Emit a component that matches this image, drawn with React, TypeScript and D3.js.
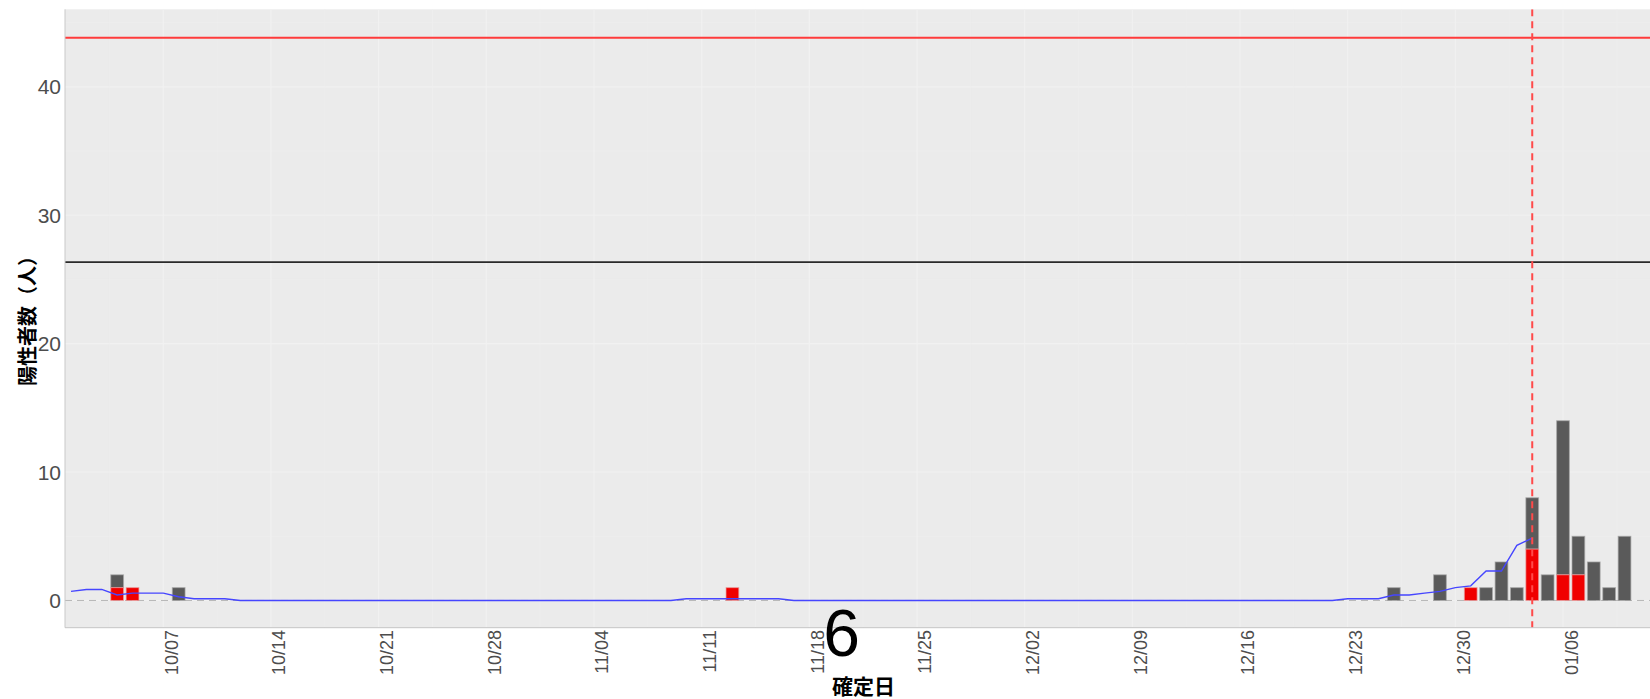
import React from "react";
import * as d3 from "d3";

// daily confirmed cases (red = highlighted group, gray = others)
const barDates = [
  "2020-10-04", "2020-10-05", "2020-10-08", "2020-11-13", "2020-12-26",
  "2020-12-29", "2020-12-31", "2021-01-01", "2021-01-02", "2021-01-03",
  "2021-01-04", "2021-01-05", "2021-01-06", "2021-01-07", "2021-01-08",
  "2021-01-09", "2021-01-10",
];
const redCounts = [1, 1, 0, 1, 0, 0, 1, 0, 0, 0, 4, 0, 2, 2, 0, 0, 0];
const grayCounts = [1, 0, 1, 0, 1, 2, 0, 1, 3, 1, 4, 2, 12, 3, 3, 1, 5];

// 7-day average line (points where it changes)
const avgDates = [
  "2020-10-01", "2020-10-02", "2020-10-03", "2020-10-04", "2020-10-05",
  "2020-10-06", "2020-10-07", "2020-10-08", "2020-10-09", "2020-10-10",
  "2020-10-11", "2020-10-12", "2020-11-09", "2020-11-10", "2020-11-16",
  "2020-11-17", "2020-12-22", "2020-12-23", "2020-12-25", "2020-12-26",
  "2020-12-27", "2020-12-28", "2020-12-29", "2020-12-30", "2020-12-31",
  "2021-01-01", "2021-01-02", "2021-01-03", "2021-01-04",
];
const avgValues = [
  0.71, 0.86, 0.86, 0.43, 0.57, 0.57, 0.57, 0.29, 0.14, 0.14,
  0.14, 0, 0, 0.14, 0.14, 0, 0, 0.14, 0.14, 0.43,
  0.43, 0.57, 0.71, 1.0, 1.14, 2.29, 2.29, 4.29, 4.86,
];

const tickDates = [
  "2020-10-07", "2020-10-14", "2020-10-21", "2020-10-28", "2020-11-04",
  "2020-11-11", "2020-11-18", "2020-11-25", "2020-12-02", "2020-12-09",
  "2020-12-16", "2020-12-23", "2020-12-30", "2021-01-06",
];
const yTicks = [0, 10, 20, 30, 40];
const yMinor = [5, 15, 25, 35, 45];

const redLevel = 43.83;
const blackLevel = 26.35;
const markerDate = "2021-01-04";
const bigNumber = "6";

const parse = d3.utcParse("%Y-%m-%d");
const fmt = d3.utcFormat("%m/%d");

const W = 1650;
const H = 699;
const panel = { left: 65, right: 1662, top: 9.3, bottom: 627.7 };

export default function App() {
  const x = d3
    .scaleUtc()
    .domain([parse("2020-10-07")!, parse("2021-01-06")!])
    .range([163.3, 1563]);
  const y = d3.scaleLinear().domain([-2.12, 46.04]).range([panel.bottom, panel.top]);

  const dayW = x(parse("2020-10-08")!) - x(parse("2020-10-07")!);
  const barW = dayW * 0.83;

  const majors = tickDates.map((d) => parse(d)!);
  const minors = [d3.utcHour.offset(majors[0], -84), ...majors.map((d) => d3.utcHour.offset(d, 84))];

  const line = d3
    .line<number>()
    .x((i) => x(parse(avgDates[i])!))
    .y((i) => y(avgValues[i]));

  const bars = barDates.map((d, i) => ({
    cx: x(parse(d)!),
    red: redCounts[i],
    total: redCounts[i] + grayCounts[i],
  }));

  const mx = x(parse(markerDate)!);
  const tickFont = "'Liberation Sans', Arial, sans-serif";
  const cjkFont = "'Noto Sans CJK JP', sans-serif";

  return (
    <svg
      width={W}
      height={H}
      style={{ position: "absolute", left: 0, top: 0, background: "#fff" }}
    >
      <defs>
        <clipPath id="panel">
          <rect x={panel.left} y={panel.top} width={panel.right - panel.left} height={panel.bottom - panel.top} />
        </clipPath>
      </defs>

      <rect
        x={panel.left}
        y={panel.top}
        width={panel.right - panel.left}
        height={panel.bottom - panel.top}
        fill="#ebebeb"
      />

      <g clipPath="url(#panel)">
        {/* grid */}
        {yMinor.map((v) => (
          <line key={"ym" + v} x1={panel.left} x2={panel.right} y1={y(v)} y2={y(v)} stroke="#efefef" strokeWidth={0.6} />
        ))}
        {yTicks.map((v) => (
          <line key={"y" + v} x1={panel.left} x2={panel.right} y1={y(v)} y2={y(v)} stroke="#f1f1f1" strokeWidth={1.1} />
        ))}
        {minors.map((d, i) => (
          <line key={"xm" + i} x1={x(d)} x2={x(d)} y1={panel.top} y2={panel.bottom} stroke="#efefef" strokeWidth={0.6} />
        ))}
        {majors.map((d, i) => (
          <line key={"x" + i} x1={x(d)} x2={x(d)} y1={panel.top} y2={panel.bottom} stroke="#f1f1f1" strokeWidth={1.1} />
        ))}

        {/* zero line */}
        <line x1={panel.left} x2={panel.right} y1={y(0)} y2={y(0)} stroke="#b8b8b8" strokeWidth={1} strokeDasharray="7,5" />

        {/* bars */}
        {bars.map((b, i) => (
          <g key={"b" + i}>
            {b.total > b.red && (
              <rect
                x={b.cx - barW / 2}
                y={y(b.total)}
                width={barW}
                height={y(b.red) - y(b.total)}
                fill="#5a5a5a"
                stroke="#a8a8a8"
                strokeOpacity={0.7}
                strokeWidth={1}
              />
            )}
            {b.red > 0 && (
              <rect
                x={b.cx - barW / 2}
                y={y(b.red)}
                width={barW}
                height={y(0) - y(b.red)}
                fill="#f00000"
                stroke="#e8a0a0"
                strokeOpacity={0.7}
                strokeWidth={1}
              />
            )}
          </g>
        ))}

        {/* 7-day average */}
        <path d={line(d3.range(avgDates.length))!} fill="none" stroke="#4646ff" strokeWidth={1.4} />

        {/* reference lines */}
        <line x1={panel.left} x2={panel.right} y1={y(redLevel)} y2={y(redLevel)} stroke="#ff3b3b" strokeWidth={2} />
        <line x1={panel.left} x2={panel.right} y1={y(blackLevel)} y2={y(blackLevel)} stroke="#2a2a2a" strokeWidth={1.6} />
        <line x1={mx} x2={mx} y1={panel.top} y2={panel.bottom} stroke="#ff4a4a" strokeWidth={2} strokeDasharray="7,5" />
      </g>

      {/* axis lines */}
      <line x1={panel.left} x2={panel.left} y1={panel.top} y2={panel.bottom} stroke="#c9c9c9" strokeWidth={1} />
      <line x1={panel.left} x2={panel.right} y1={panel.bottom} y2={panel.bottom} stroke="#c4c4c4" strokeWidth={1} />

      {/* y tick labels */}
      {yTicks.map((v) => (
        <text
          key={"yl" + v}
          x={61}
          y={y(v)}
          dy="0.36em"
          textAnchor="end"
          fontFamily={tickFont}
          fontSize={21}
          fill="#4d4d4d"
        >
          {v}
        </text>
      ))}

      {/* x tick labels */}
      {majors.map((d, i) => (
        <text
          key={"xl" + i}
          transform={`translate(${x(d) + 14.5},630) rotate(-90)`}
          textAnchor="end"
          fontFamily={tickFont}
          fontSize={18}
          fill="#4d4d4d"
        >
          {fmt(d)}
        </text>
      ))}

      {/* axis titles */}
      <text
        transform="translate(35,316) rotate(-90)"
        textAnchor="middle"
        fontFamily={cjkFont}
        fontWeight="bold"
        fontSize={20}
        fill="#000"
      >
        陽性者数（人）
      </text>
      <text x={863.5} y={694} textAnchor="middle" fontFamily={cjkFont} fontWeight="bold" fontSize={21} fill="#000">
        確定日
      </text>

      <text x={841.5} y={656} textAnchor="middle" fontFamily={tickFont} fontSize={66} fill="#000">
        {bigNumber}
      </text>
    </svg>
  );
}
